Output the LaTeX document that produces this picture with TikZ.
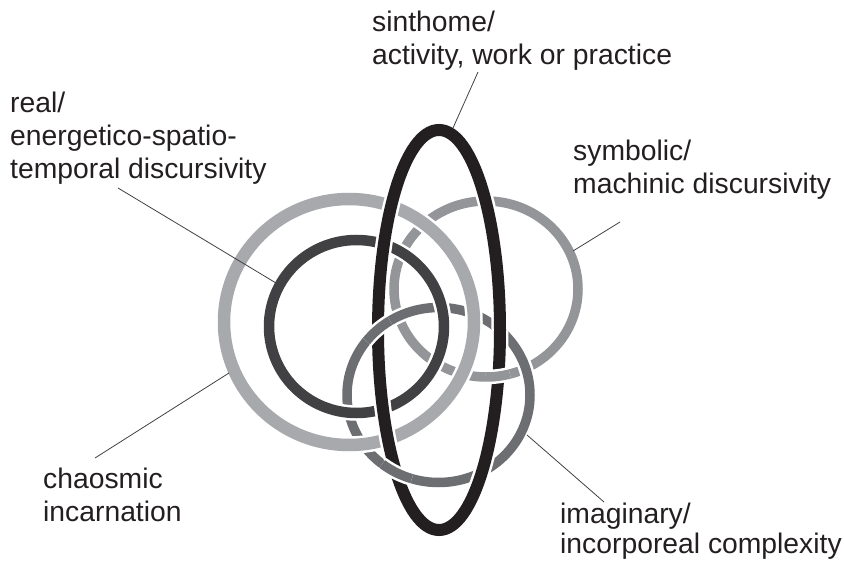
\documentclass[tikz,border=0pt]{standalone}
\usepackage{fontspec}
\setmainfont{Liberation Sans}
\definecolor{cL}{HTML}{A7A9AC}
\definecolor{cD}{HTML}{414042}
\definecolor{cS}{HTML}{939598}
\definecolor{cI}{HTML}{6D6E71}
\definecolor{cE}{HTML}{231F20}
% full ring: colour, width, border width, cx, cy, rx, ry
\newcommand\ringdraw[7]{%
  \draw[white, line width=#3] (#4,#5) ellipse [x radius=#6, y radius=#7];
  \draw[#1, line width=#2] (#4,#5) ellipse [x radius=#6, y radius=#7];}
% piece of ring redrawn on top: colour, width, border, cx, cy, rx, ry, t1, t2
\newcommand\ringpiece[9]{%
  \draw[white, line width=#3] plot[domain=#8:#9, samples=30] ({#4+#6*cos(\x)},{#5+#7*sin(\x)});
  \draw[#1, line width=#2] plot[domain=#8:#9, samples=30] ({#4+#6*cos(\x)},{#5+#7*sin(\x)});}
\begin{document}
\begin{tikzpicture}[x=1pt,y=-1pt,
  lbl/.style={anchor=base west, inner sep=0pt, text=cE, font=\fontsize{28.3}{33}\selectfont},
  leader/.style={draw=cD, line width=0.8pt}]
\useasboundingbox (0,0) rectangle (844,561);
% rings, bottom to top
\ringdraw{cS}{9.5pt}{14.5pt}{486}{289}{92}{88}
\ringdraw{cI}{9.5pt}{14.5pt}{438.5}{395}{91.5}{87.5}
\ringdraw{cD}{10.5pt}{15.5pt}{356.5}{326.5}{87.5}{86.5}
\ringdraw{cL}{12.5pt}{17.5pt}{349}{322}{125}{123}
\ringdraw{cE}{12pt}{17pt}{439}{330}{61}{200}
% pieces passing over the black ellipse
\ringpiece{cS}{9.5pt}{14.5pt}{486}{289}{92}{88}{75}{90}
\ringpiece{cI}{9.5pt}{14.5pt}{438.5}{395}{91.5}{87.5}{218}{238}
\ringpiece{cI}{9.5pt}{14.5pt}{438.5}{395}{91.5}{87.5}{107}{128}
% labels
\node[lbl] (sinA) at (372,32) {sinthome/};
\node[lbl] (sinB) at (372,65) {activity, work or practice};
\node[lbl] (realA) at (10,113) {real/};
\node[lbl] (realB) at (10,146) {energetico-spatio-};
\node[lbl] (realC) at (10,179) {temporal discursivity};
\node[lbl] (symA) at (573,161) {symbolic/};
\node[lbl] (symB) at (573,194) {machinic discursivity};
\node[lbl] (chaA) at (43,488) {chaosmic};
\node[lbl] (chaB) at (43,521) {incarnation};
\node[lbl] (imaA) at (560,523) {imaginary/};
\node[lbl] (imaB) at (560,553.5) {incorporeal complexity};
% leader line ends
\coordinate (sinS) at (478,72);
\coordinate (sinE) at (453,128);
\coordinate (realS) at (118,188);
\coordinate (realE) at (276,283);
\coordinate (symS) at (620,222);
\coordinate (symE) at (573,251);
\coordinate (chaS) at (95,458);
\coordinate (chaE) at (229,373);
\coordinate (imaS) at (604,502);
\coordinate (imaE) at (527,435);
\draw[leader] (sinS) -- (sinE);
\draw[leader] (realS) -- (realE);
\draw[leader] (symS) -- (symE);
\draw[leader] (chaS) -- (chaE);
\draw[leader] (imaS) -- (imaE);
\end{tikzpicture}
\end{document}
